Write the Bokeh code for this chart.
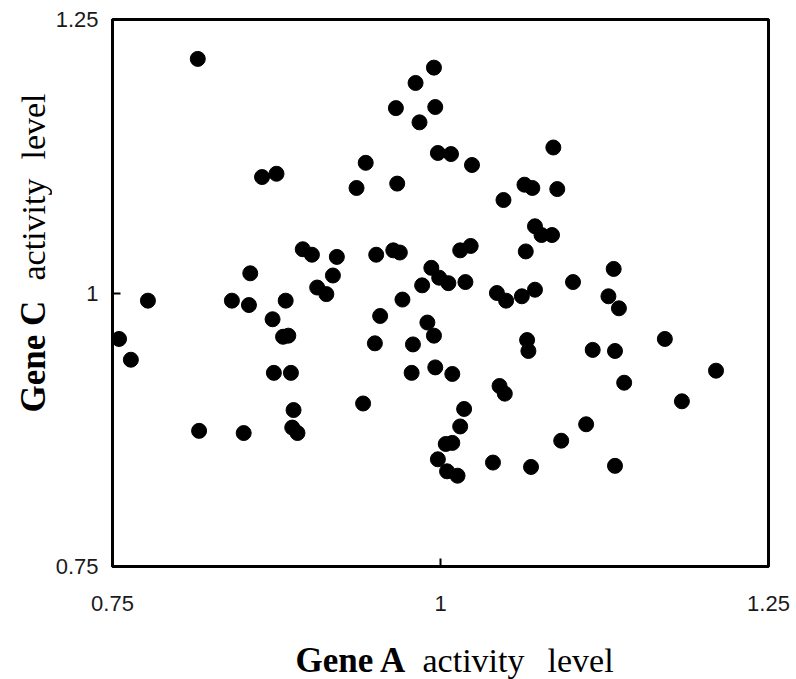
import math
from bokeh.plotting import figure
from bokeh.models import FixedTicker, Range1d
from bokeh.layouts import column, row
from bokeh.core.properties import value
from bokeh.embed import file_html
from bokeh.resources import INLINE

# Gene A activity level (x) and Gene C activity level (y)
gene_a = [0.815, 0.755, 0.764, 0.777, 0.816, 0.850, 0.841, 0.854, 0.855, 0.882,
          0.872, 0.880, 0.884, 0.873, 0.886, 0.888, 0.887, 0.891, 0.864, 0.875,
          0.895, 0.902, 0.921, 0.918, 0.906, 0.913, 0.951, 0.936, 0.943, 0.966,
          0.967, 0.964, 0.969, 0.941, 0.954, 0.950, 0.971, 0.978, 0.979, 0.995,
          0.981, 0.996, 0.984, 0.998, 1.008, 1.024, 1.086, 1.064, 1.070, 1.089,
          1.048, 1.072, 1.077, 1.085, 1.065, 1.015, 1.023, 0.993, 0.999, 1.006,
          1.019, 0.986, 1.043, 1.050, 1.062, 1.072, 1.101, 1.132, 1.128, 1.136,
          0.990, 0.995, 0.996, 1.009, 1.066, 1.067, 1.116, 1.133, 1.171, 1.210,
          1.140, 1.184, 1.045, 1.049, 1.018, 1.015, 1.004, 1.009, 0.998, 1.005,
          1.013, 1.040, 1.069, 1.092, 1.111, 1.133]
gene_c = [1.214, 0.958, 0.939, 0.993, 0.874, 0.872, 0.993, 0.989, 1.018, 0.993,
          0.976, 0.960, 0.961, 0.927, 0.927, 0.893, 0.877, 0.872, 1.106, 1.109,
          1.040, 1.035, 1.033, 1.016, 1.005, 0.999, 1.035, 1.096, 1.119, 1.169,
          1.100, 1.039, 1.037, 0.899, 0.979, 0.954, 0.994, 0.927, 0.953, 1.206,
          1.192, 1.170, 1.156, 1.128, 1.127, 1.117, 1.133, 1.099, 1.096, 1.095,
          1.085, 1.061, 1.053, 1.053, 1.038, 1.039, 1.043, 1.023, 1.014, 1.009,
          1.010, 1.007, 1.000, 0.993, 0.997, 1.003, 1.010, 1.022, 0.997, 0.986,
          0.973, 0.961, 0.932, 0.926, 0.957, 0.947, 0.948, 0.947, 0.958, 0.929,
          0.918, 0.901, 0.915, 0.908, 0.894, 0.878, 0.862, 0.863, 0.848, 0.837,
          0.833, 0.845, 0.841, 0.865, 0.880, 0.842]

tick_values = [0.75, 1, 1.25]
tick_labels = ["0.75", "1", "1.25"]

x_title_bold, x_title_rest = "Gene A", ["activity", "level"]
y_title_bold, y_title_rest = "Gene C", ["activity", "level"]

W, H = 796, 679
YLAB_W = 52          # strip on the left holding the rotated y title
XLAB_H = 47          # strip at the bottom holding the x title
MAIN_H = H - XLAB_H
FRAME_TOP, FRAME_BOTTOM = 19, 566

serif = "Liberation Serif"

# ---------------- main scatter ----------------
p = figure(width=W - YLAB_W, height=MAIN_H, output_backend="svg", toolbar_location=None,
           x_range=(0.75, 1.25), y_range=(0.75, 1.25),
           min_border_left=112 - YLAB_W, min_border_right=28,
           min_border_top=FRAME_TOP, min_border_bottom=MAIN_H - FRAME_BOTTOM)
p.background_fill_color = "white"
p.border_fill_color = "white"
p.outline_line_color = "black"
p.outline_line_width = 3
p.xgrid.visible = False
p.ygrid.visible = False

p.scatter(gene_a, gene_c, size=15, fill_color="black", line_color="black")

overrides = {v: s for v, s in zip(tick_values, tick_labels)}
for ax, standoff in ((p.xaxis[0], 29), (p.yaxis[0], 14)):
    ax.ticker = FixedTicker(ticks=tick_values)
    ax.major_label_overrides = overrides
    ax.minor_tick_line_color = None
    ax.major_tick_in = 8
    ax.major_tick_out = 0
    ax.major_tick_line_width = 2
    ax.major_tick_line_color = "black"
    ax.axis_line_width = 3
    ax.axis_line_color = "black"
    ax.major_label_text_font = "Liberation Sans"
    ax.major_label_text_font_size = "22px"
    ax.major_label_text_color = "#1a1a1a"
    ax.major_label_standoff = standoff


def strip(width, height, y_range):
    f = figure(width=width, height=height, output_backend="svg", toolbar_location=None,
               x_range=Range1d(0, width), y_range=y_range,
               x_axis_type=None, y_axis_type=None, min_border=0)
    f.outline_line_color = None
    f.xgrid.visible = False
    f.ygrid.visible = False
    f.background_fill_color = "white"
    f.border_fill_color = "white"
    return f


# ---------------- y title strip ----------------
# its frame is aligned with the scatter's frame, so its y range spans that frame in px
fy = strip(YLAB_W, MAIN_H, Range1d(MAIN_H - FRAME_BOTTOM, MAIN_H - FRAME_TOP))
fy.text(x=[33], y=[MAIN_H - 356], text=[y_title_bold], angle=math.pi / 2,
        text_font=value(serif), text_font_size="35px", text_font_style="bold",
        text_color="black", text_baseline="alphabetic", text_align="center")
fy.text(x=[33, 33], y=[MAIN_H - 229, MAIN_H - 126], text=y_title_rest, angle=math.pi / 2,
        text_font=value(serif), text_font_size="34px",
        text_color="black", text_baseline="alphabetic", text_align="center")

# ---------------- x title strip ----------------
fx = strip(W, XLAB_H, Range1d(0, XLAB_H))
fx.text(x=[295], y=[19], text=[x_title_bold],
        text_font=value(serif), text_font_size="35px", text_font_style="bold",
        text_color="black", text_baseline="alphabetic", text_align="left")
fx.text(x=[422, 547], y=[19, 19], text=x_title_rest,
        text_font=value(serif), text_font_size="34px",
        text_color="black", text_baseline="alphabetic", text_align="left")

layout = column(row(fy, p), fx)
open("out.html", "w").write(file_html(layout, INLINE))
